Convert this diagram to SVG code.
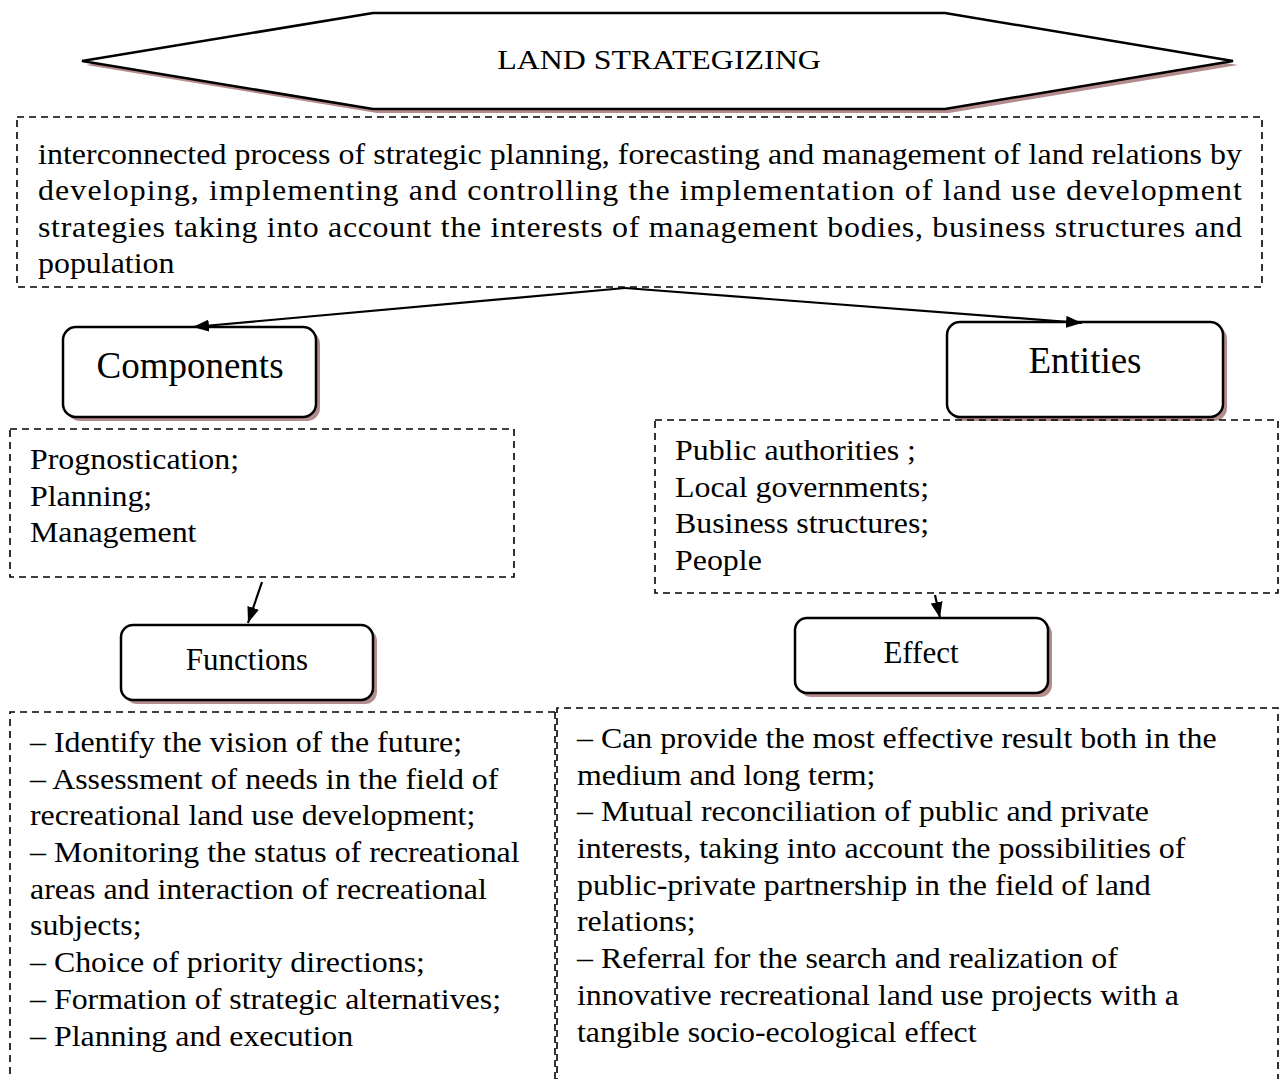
<svg xmlns="http://www.w3.org/2000/svg" width="1280" height="1079" viewBox="0 0 1280 1079">
<style>
text{font-family:"Liberation Serif","Times New Roman",serif;fill:#000}
.dash{fill:none;stroke:#000;stroke-width:1.6;stroke-dasharray:7 5}
.box{fill:#fff;stroke:#000;stroke-width:2.5}
.shadow{fill:#b58c8c}
.body{font-size:29px}
.conn{stroke:#000;stroke-width:2.2;fill:none;marker-end:url(#ah)}
</style>
<defs>
<marker id="ah" viewBox="0 0 10 10" refX="10" refY="5" markerWidth="16" markerHeight="12" preserveAspectRatio="none" markerUnits="userSpaceOnUse" orient="auto">
<path d="M0,0 L10,5 L0,10 z" fill="#000"/>
</marker>
</defs>
<rect width="1280" height="1079" fill="#fff"/>

<g id="title">
<polygon class="shadow" points="86,65 377,17 949,17 1238,65 949,113 377,113"/>
<polygon class="box" points="82,61 373,13 945,13 1233,61 945,109 373,109"/>
<text x="659" y="69" font-size="28" text-anchor="middle" transform="translate(659,0) scale(1.14,1) translate(-659,0)">LAND STRATEGIZING</text>
</g>

<g id="definition">
<rect class="dash" x="17" y="117" width="1245" height="170"/>
<g transform="translate(38,0) scale(1.1,1)">
<text class="body" x="0" y="164" textLength="1094.5" lengthAdjust="spacing">interconnected process of strategic planning, forecasting and management of land relations by</text>
<text class="body" x="0" y="200.5" textLength="1094.5" lengthAdjust="spacing">developing, implementing and controlling the implementation of land use development</text>
<text class="body" x="0" y="237" textLength="1094.5" lengthAdjust="spacing">strategies taking into account the interests of management bodies, business structures and</text>
<text class="body" x="0" y="273.5">population</text>
</g>
</g>

<g id="components">
<rect class="shadow" x="67" y="331" width="253" height="90" rx="13"/>
<rect class="box" x="63" y="327" width="253" height="90" rx="13"/>
<text x="190" y="378" font-size="37" text-anchor="middle">Components</text>
</g>

<g id="entities">
<rect class="shadow" x="951" y="326" width="276" height="95" rx="13"/>
<rect class="box" x="947" y="322" width="276" height="95" rx="13"/>
<text x="1085" y="373" font-size="37" text-anchor="middle">Entities</text>
</g>

<g id="components-list">
<rect class="dash" x="10" y="429" width="504" height="148"/>
<g transform="translate(30,0) scale(1.1,1)">
<text class="body" x="0" y="469">Prognostication;</text>
<text class="body" x="0" y="505.7">Planning;</text>
<text class="body" x="0" y="542.4">Management</text>
</g>
</g>

<g id="entities-list">
<rect class="dash" x="655" y="420" width="623" height="173"/>
<g transform="translate(675,0) scale(1.1,1)">
<text class="body" x="0" y="460">Public authorities ;</text>
<text class="body" x="0" y="496.7">Local governments;</text>
<text class="body" x="0" y="533.4">Business structures;</text>
<text class="body" x="0" y="570.1">People</text>
</g>
</g>

<g id="functions">
<rect class="shadow" x="125" y="629" width="252" height="75" rx="12"/>
<rect class="box" x="121" y="625" width="252" height="75" rx="12"/>
<text x="247" y="670" font-size="31" text-anchor="middle">Functions</text>
</g>

<g id="effect">
<rect class="shadow" x="799" y="622" width="253" height="75" rx="12"/>
<rect class="box" x="795" y="618" width="253" height="75" rx="12"/>
<text x="921" y="663" font-size="31" text-anchor="middle">Effect</text>
</g>

<g id="functions-list">
<polyline class="dash" points="555,712 10,712 10,1085"/>
<line class="dash" x1="555" y1="712" x2="555" y2="1085"/>
<g transform="translate(30,0) scale(1.1,1)">
<text class="body" x="0" y="752">– Identify the vision of the future;</text>
<text class="body" x="0" y="788.7">– Assessment of needs in the field of</text>
<text class="body" x="0" y="825.4">recreational land use development;</text>
<text class="body" x="0" y="862.1">– Monitoring the status of recreational</text>
<text class="body" x="0" y="898.8">areas and interaction of recreational</text>
<text class="body" x="0" y="935.5">subjects;</text>
<text class="body" x="0" y="972.2">– Choice of priority directions;</text>
<text class="body" x="0" y="1008.9">– Formation of strategic alternatives;</text>
<text class="body" x="0" y="1045.6">– Planning and execution</text>
</g>
</g>

<g id="effect-list">
<polyline class="dash" points="557,1085 557,708 1278,708 1278,1085"/>
<g transform="translate(577,0) scale(1.1,1)">
<text class="body" x="0" y="748">– Can provide the most effective result both in the</text>
<text class="body" x="0" y="784.7">medium and long term;</text>
<text class="body" x="0" y="821.4">– Mutual reconciliation of public and private</text>
<text class="body" x="0" y="858.1">interests, taking into account the possibilities of</text>
<text class="body" x="0" y="894.8">public-private partnership in the field of land</text>
<text class="body" x="0" y="931.5">relations;</text>
<text class="body" x="0" y="968.2">– Referral for the search and realization of</text>
<text class="body" x="0" y="1004.9">innovative recreational land use projects with a</text>
<text class="body" x="0" y="1041.6">tangible socio-ecological effect</text>
</g>
</g>

<g id="connectors">
<line class="conn" x1="625" y1="288" x2="193" y2="327"/>
<line class="conn" x1="625" y1="288" x2="1082" y2="323"/>
<line class="conn" x1="262" y1="582" x2="248" y2="623"/>
<line class="conn" x1="935" y1="595" x2="940" y2="618"/>
</g>
</svg>
